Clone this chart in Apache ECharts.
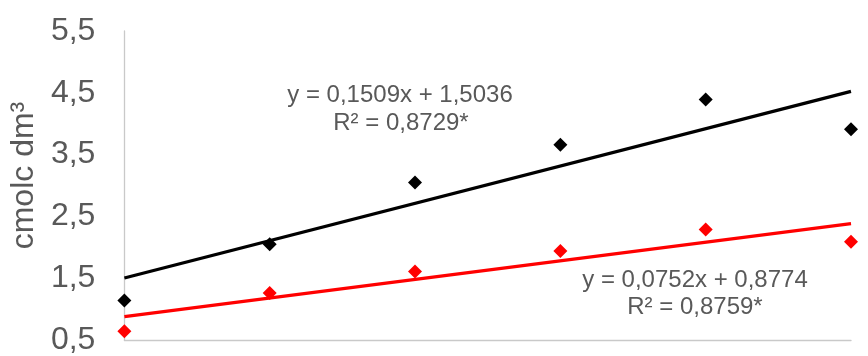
<!DOCTYPE html>
<html>
<head>
<meta charset="utf-8">
<script src="https://cdn.jsdelivr.net/npm/echarts@6/dist/echarts.min.js"></script>
<style>
html,body{margin:0;padding:0;background:#fff;}
#chart{width:868px;height:356px;}
</style>
</head>
<body>
<div id="chart"></div>
<script>
// x values (doses) and observed values
const xValues = [0, 4, 8, 12, 16, 20];
const blackValues = [1.14, 2.05, 3.05, 3.66, 4.39, 3.91];
const redValues = [0.64, 1.26, 1.61, 1.94, 2.29, 2.09];
// fitted trendline coefficients [slope, intercept]
const blackFit = [0.1509, 1.5036];
const redFit = [0.0752, 0.8774];
// equation label texts
const blackEq = ['y = 0,1509x + 1,5036', 'R² = 0,8729*'];
const redEq = ['y = 0,0752x + 0,8774', 'R² = 0,8759*'];
const yTickLabels = ['0,5', '1,5', '2,5', '3,5', '4,5', '5,5'];
const yAxisTitle = 'cmolc dm³';

const FONT = '"Liberation Sans", Arial, sans-serif';
const GRAY = '#595959';

function pts(xs, ys) { return xs.map((x, i) => [x, ys[i]]); }
function trend(fit) {
  const x0 = xValues[0], x1 = xValues[xValues.length - 1];
  return [[x0, fit[0] * x0 + fit[1]], [x1, fit[0] * x1 + fit[1]]];
}

const chart = echarts.init(document.getElementById('chart'), null, {renderer: 'canvas'});
chart.setOption({
  animation: false,
  backgroundColor: '#fff',
  grid: {left: 123, right: 17, top: 31, bottom: 13},
  xAxis: {
    type: 'value', min: 0, max: 20,
    axisLine: {show: true, onZero: false, lineStyle: {color: '#c9c9c9', width: 1.3}},
    axisTick: {show: false}, axisLabel: {show: false}, splitLine: {show: false}
  },
  yAxis: {
    type: 'value', min: 0.5, max: 5.5, interval: 0.5,
    name: yAxisTitle, nameLocation: 'middle', nameGap: 82,
    nameTextStyle: {fontFamily: FONT, fontSize: 32, color: GRAY, padding: [0, 0, 0, 20]},
    axisLine: {show: true, lineStyle: {color: '#c9c9c9', width: 1.3}},
    axisTick: {show: false}, splitLine: {show: false},
    axisLabel: {
      margin: 29, fontFamily: FONT, fontSize: 32, color: GRAY,
      formatter: function (v) {
        const s = v.toFixed(1).replace('.', ',');
        return yTickLabels.indexOf(s) >= 0 ? s : '';
      }
    }
  },
  series: [
    {type: 'line', data: trend(blackFit), symbol: 'none', lineStyle: {color: '#000', width: 3.3}, z: 3},
    {type: 'line', data: trend(redFit), symbol: 'none', lineStyle: {color: '#ff0000', width: 3.3}, z: 3},
    {type: 'scatter', data: pts(xValues, blackValues), symbol: 'diamond', symbolSize: 14, itemStyle: {color: '#000', opacity: 1}, z: 4},
    {type: 'scatter', data: pts(xValues, redValues), symbol: 'diamond', symbolSize: 14, itemStyle: {color: '#ff0000', opacity: 1}, z: 4}
  ],
  graphic: [
    {type: 'text', x: 400, y: 95, style: {text: blackEq[0], fontFamily: FONT, fontSize: 24, fill: GRAY, textAlign: 'center', textVerticalAlign: 'middle'}},
    {type: 'text', x: 401, y: 123, style: {text: blackEq[1], fontFamily: FONT, fontSize: 24, fill: GRAY, textAlign: 'center', textVerticalAlign: 'middle'}},
    {type: 'text', x: 695, y: 280, style: {text: redEq[0], fontFamily: FONT, fontSize: 24, fill: GRAY, textAlign: 'center', textVerticalAlign: 'middle'}},
    {type: 'text', x: 695, y: 307, style: {text: redEq[1], fontFamily: FONT, fontSize: 24, fill: GRAY, textAlign: 'center', textVerticalAlign: 'middle'}}
  ]
});
</script>
</body>
</html>
